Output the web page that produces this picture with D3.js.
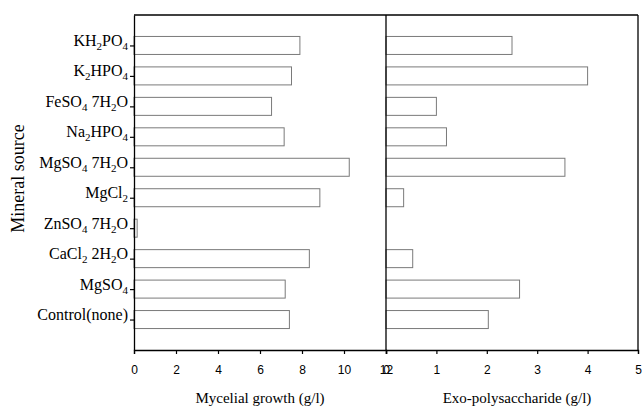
<!DOCTYPE html>
<html>
<head>
<meta charset="utf-8">
<script src="https://cdn.jsdelivr.net/npm/d3@7"></script>
<style>
  html, body { margin: 0; padding: 0; background: #fff; }
  svg { display: block; }
</style>
</head>
<body>
<svg id="chart" width="643" height="408"></svg>
<script>
// Mineral sources, top to bottom ("_n" marks a subscript digit)
const minerals = [
  "KH_2PO_4",
  "K_2HPO_4",
  "FeSO_4 7H_2O",
  "Na_2HPO_4",
  "MgSO_4 7H_2O",
  "MgCl_2",
  "ZnSO_4 7H_2O",
  "CaCl_2 2H_2O",
  "MgSO_4",
  "Control(none)"
];
// Mycelial growth (g/l)
const mycelialGrowth = [7.9, 7.5, 6.55, 7.15, 10.25, 8.85, 0.15, 8.35, 7.2, 7.4];
// Exo-polysaccharide (g/l)
const exoPolysaccharide = [2.5, 4.0, 1.0, 1.2, 3.55, 0.35, 0.0, 0.53, 2.65, 2.03];
const growthTicks = [0, 2, 4, 6, 8, 10, 12];
const epsTicks = [0, 1, 2, 3, 4, 5];

const svg = d3.select("#chart");
const plotTop = 15, plotBottom = 350;
const leftX0 = 134, midX = 386, rightX1 = 638;

const y = d3.scalePoint().domain(minerals).range([plotTop, plotBottom]).padding(1);
const barH = 18;
const xL = d3.scaleLinear().domain([0, 12]).range([leftX0, midX]);
const xR = d3.scaleLinear().domain([0, 5]).range([midX, rightX1]);

const serif = "'Liberation Serif', 'Times New Roman', serif";
const sans = "'Liberation Sans', Arial, sans-serif";

// Bars (outlined, unfilled)
function drawBars(values, x, cls) {
  svg.append("g").attr("class", cls)
    .selectAll("rect").data(minerals).join("rect")
    .attr("x", x(0))
    .attr("y", d => y(d) - barH / 2)
    .attr("width", (d, i) => x(values[i]) - x(0))
    .attr("height", barH)
    .attr("fill", "none")
    .attr("stroke", "#7a7a7a")
    .attr("stroke-width", 1);
}
drawBars(mycelialGrowth, xL, "bars-growth");
drawBars(exoPolysaccharide, xR, "bars-eps");

// Bottom axes
function styleAxis(g) {
  g.select(".domain").attr("stroke", "#000").attr("stroke-width", 1.3);
  g.selectAll(".tick line").attr("stroke", "#000").attr("stroke-width", 1.2);
  g.selectAll(".tick text").attr("font-family", sans).attr("font-size", 12).attr("fill", "#000");
}
svg.append("g").attr("transform", `translate(0,${plotBottom})`)
  .call(d3.axisBottom(xL).tickValues(growthTicks).tickFormat(d3.format("d")).tickSizeOuter(0).tickSize(4).tickPadding(11))
  .call(styleAxis);
svg.append("g").attr("transform", `translate(0,${plotBottom})`)
  .call(d3.axisBottom(xR).tickValues(epsTicks).tickFormat(d3.format("d")).tickSizeOuter(0).tickSize(4).tickPadding(11))
  .call(styleAxis);

// Left category axis
const yAxis = svg.append("g").attr("transform", `translate(${leftX0},0)`)
  .call(d3.axisLeft(y).tickSize(4).tickSizeOuter(0).tickFormat(""));
yAxis.select(".domain").attr("stroke", "#000").attr("stroke-width", 1.3);
yAxis.selectAll(".tick line").attr("stroke", "#000").attr("stroke-width", 1.2);

// Category labels with chemical subscripts
const subShift = 4;
yAxis.selectAll(".tick").each(function(d) {
  const t = d3.select(this).append("text")
    .attr("x", -6).attr("dy", "0.32em")
    .attr("text-anchor", "end")
    .attr("font-family", serif).attr("font-size", 16).attr("fill", "#000");
  const parts = d.split(/(_\d)/).filter(s => s.length);
  let lowered = false;
  parts.forEach(p => {
    if (p[0] === "_") {
      t.append("tspan").attr("font-size", 11).attr("dy", lowered ? 0 : subShift).text(p[1]);
      lowered = true;
    } else {
      t.append("tspan").attr("dy", lowered ? -subShift : 0).text(p);
      lowered = false;
    }
  });
});

// Frame: top edge, panel divider, right edge
const frame = svg.append("g").attr("stroke", "#000").attr("stroke-width", 1.3).attr("fill", "none");
frame.append("line").attr("x1", leftX0).attr("x2", rightX1).attr("y1", plotTop).attr("y2", plotTop);
frame.append("line").attr("x1", midX).attr("x2", midX).attr("y1", plotTop).attr("y2", plotBottom);
frame.append("line").attr("x1", rightX1).attr("x2", rightX1).attr("y1", plotTop).attr("y2", plotBottom);

// Axis titles
svg.append("text").attr("x", (leftX0 + midX) / 2).attr("y", 403)
  .attr("text-anchor", "middle").attr("font-family", serif).attr("font-size", 15)
  .text("Mycelial growth (g/l)");
svg.append("text").attr("x", (midX + rightX1) / 2 + 5).attr("y", 403)
  .attr("text-anchor", "middle").attr("font-family", serif).attr("font-size", 15)
  .text("Exo-polysaccharide (g/l)");
svg.append("text")
  .attr("transform", `translate(24,${(plotTop + plotBottom) / 2 - 4}) rotate(-90)`)
  .attr("text-anchor", "middle").attr("font-family", serif).attr("font-size", 18)
  .text("Mineral source");
</script>
</body>
</html>
